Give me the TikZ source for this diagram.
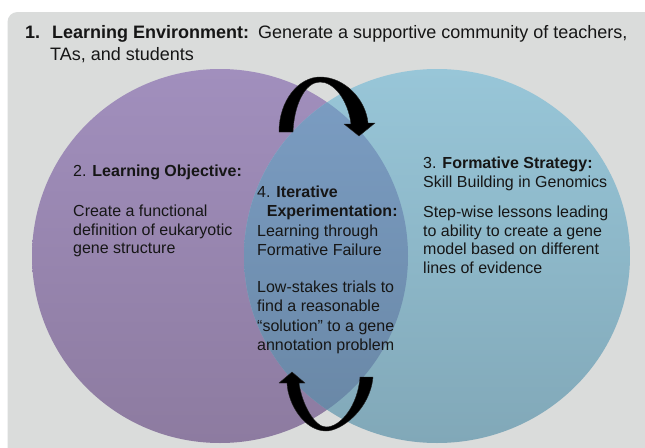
\documentclass[tikz,border=0pt]{standalone}
\usepackage{fontspec}
\setmainfont{Liberation Sans}
\definecolor{bggray}{RGB}{218,220,219}
\definecolor{purtop}{RGB}{161,143,189}
\definecolor{purbot}{RGB}{141,123,160}
\definecolor{blutop}{RGB}{152,198,216}
\definecolor{blubot}{RGB}{129,168,184}
\definecolor{ovltop}{RGB}{124,158,196}
\definecolor{ovlbot}{RGB}{104,134,164}
\definecolor{txt}{RGB}{22,22,22}
\tikzset{
  ttl/.style={anchor=base west, inner sep=0pt, text=txt, font=\fontsize{18}{21}\selectfont},
  body/.style={anchor=base west, inner sep=0pt, text=txt, font=\fontsize{16}{19}\selectfont},
  arr/.style={fill=black, draw=black!85, line width=0.4pt, line join=round}
}
\begin{document}
\begin{tikzpicture}[x=1pt,y=-1pt]
\useasboundingbox (0,0) rectangle (645,447);
\clip (0,0) rectangle (645,447);
\fill[white] (0,0) rectangle (645,447);
\fill[bggray, rounded corners=10pt] (7.5,12) rectangle (670,470);
% circles
\shade[top color=purtop, bottom color=purbot] (220,256) ellipse [x radius=188pt, y radius=187pt];
\shade[top color=blutop, bottom color=blubot] (437,256) ellipse [x radius=193pt, y radius=187pt];
\begin{scope}
  \clip (220,256) ellipse [x radius=188pt, y radius=187pt];
  \shade[top color=ovltop, bottom color=ovlbot] (437,256) ellipse [x radius=193pt, y radius=187pt];
\end{scope}
% top arrow
\path[arr] (279,132)
  .. controls (279,100) and (299,77) .. (320,77)
  .. controls (345,77) and (366,100) .. (368,123)
  -- (375,123) -- (359,136) -- (344,124) -- (351,124)
  .. controls (348,100) and (334,82) .. (320,82)
  .. controls (305,82) and (294,105) .. (293,132) -- cycle;
% bottom arrow
\path[arr] (360,377) -- (373,377)
  .. controls (370,410) and (341,431) .. (326,431)
  .. controls (305,431) and (288,405) .. (287,383)
  -- (279,383) -- (292,372) -- (305,383) -- (299,383)
  .. controls (302,405) and (315,427) .. (326,427)
  .. controls (341,427) and (358,405) .. (360,377) -- cycle;
% title
\node[ttl] (t1) at (25,38) {\textbf{1.}};
\node[ttl] (t2) at (52,38) {\textbf{Learning Environment:}};
\node[ttl] (t3) at (258,38) {Generate a supportive community of teachers,};
\node[ttl] (t4) at (50,60) {TAs, and students};
% left block
\node[body] (l1) at (73,176.5) {2. \textbf{Learning Objective:}};
\node[body] (l2) at (73,216.5) {Create a functional};
\node[body] (l3) at (73,235) {definition of eukaryotic};
\node[body] (l4) at (73,253.5) {gene structure};
% right block
\node[body] (r1) at (423,168) {3. \textbf{Formative Strategy:}};
\node[body] (r2) at (423,187) {Skill Building in Genomics};
\node[body] (r3) at (423,217) {Step-wise lessons leading};
\node[body] (r4) at (423,236) {to ability to create a gene};
\node[body] (r5) at (423,254.5) {model based on different};
\node[body] (r6) at (423,273) {lines of evidence};
% middle block
\node[body] (m1) at (257,197.3) {4. \textbf{Iterative}};
\node[body] (m2) at (266.7,216.7) {\textbf{Experimentation:}};
\node[body] (m3) at (257,236) {Learning through};
\node[body] (m4) at (257,255) {Formative Failure};
\node[body] (m5) at (257,292.7) {Low-stakes trials to};
\node[body] (m6) at (257,311.7) {find a reasonable};
\node[body] (m7) at (257,331) {“solution” to a gene};
\node[body] (m8) at (257,350.5) {annotation problem};
\end{tikzpicture}
\end{document}
